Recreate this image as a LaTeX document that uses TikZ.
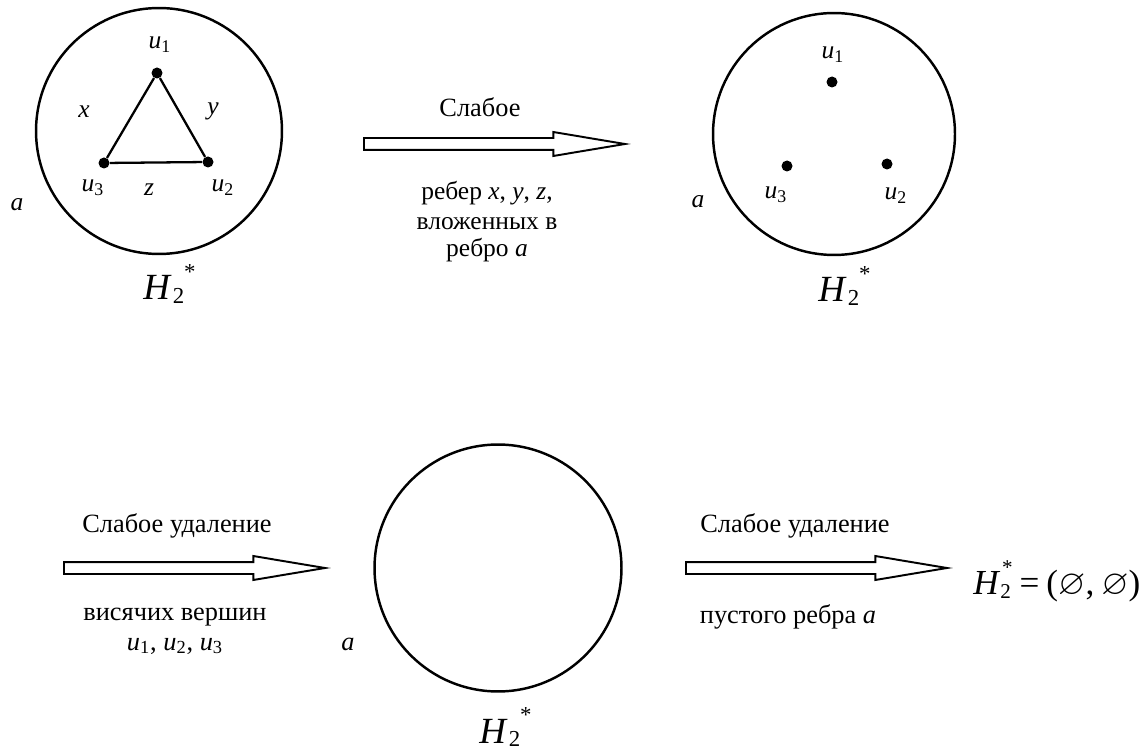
\documentclass[tikz,border=0pt]{standalone}
\usepackage{fontspec}
\usepackage{amssymb}
\setmainfont{Liberation Serif}
\usetikzlibrary{shapes.arrows}

\newcommand{\hstar}{\textit{H}\kern0.03em\raisebox{-0.1em}{\fontsize{13}{13}\selectfont 2}\raisebox{0.55em}{\fontsize{13}{13}\selectfont *}}
\newcommand{\hstack}{\textit{H}\rlap{\raisebox{-0.12em}{\fontsize{12}{12}\selectfont 2}}\kern0.05em\raisebox{0.55em}{\fontsize{12}{12}\selectfont *}}
\newcommand{\uu}[1]{\textit{u}\textsubscript{#1}}

\begin{document}
\begin{tikzpicture}[x=0.02cm, y=-0.02cm,
    ring/.style={draw, circle, line width=1.4pt, inner sep=0pt},
    vert/.style={circle, fill, inner sep=0pt, minimum size=0.22cm},
    edge/.style={line width=1.3pt},
    fatarrow/.style={draw, single arrow, anchor=tail, line width=1.1pt, inner sep=0.1cm, single arrow head extend=0.12cm, single arrow tip angle=19, single arrow head indent=0pt, minimum height=5.22cm},
    lbl/.style={font=\fontsize{14.5}{16}\selectfont, inner sep=0pt},
    txt/.style={font=\fontsize{15}{17}\selectfont, inner sep=0pt, anchor=base},
    big/.style={font=\fontsize{21}{24}\selectfont, inner sep=0pt, anchor=base west}
]
    \useasboundingbox (0,0) rectangle (1142,749);

    % first graph
    \node[ring, minimum size=4.92cm] (c1) at (159,131) {};
    \node[vert] (t1) at (157,73) {};
    \node[vert] (t2) at (208,162) {};
    \node[vert] (t3) at (104,163) {};
    \draw[edge] (t1) -- (t2);
    \draw[edge] (t2) -- (t3);
    \draw[edge] (t3) -- (t1);
    \node[lbl] (l1) at (160,45) {\uu{1}};
    \node[lbl] (l2) at (223,188) {\uu{2}};
    \node[lbl] (l3) at (93,188) {\uu{3}};
    \node[lbl] (ex) at (84,112) {\textit{x}};
    \node[lbl] (ey) at (213,111) {\textit{y}};
    \node[lbl] (ez) at (149,190) {\textit{z}};
    \node[lbl] (a1) at (17,205) {\textit{a}};
    \node[big] (h1) at (143,300) {\hstar};

    % first step
    \node[fatarrow] (ar1) at (363,144) {};
    \node[txt] (s1) at (480,117) {Слабое};
    \node[txt, font=\fontsize{14.5}{16}\selectfont] (d1a) at (487,200) {ребер \textit{x}, \textit{y}, \textit{z},};
    \node[txt, font=\fontsize{14.5}{16}\selectfont] (d1b) at (487,230) {вложенных в};
    \node[txt, font=\fontsize{14.5}{16}\selectfont] (d1c) at (487,257) {ребро \textit{a}};

    % second graph
    \node[ring, minimum size=4.84cm] (c2) at (834,134) {};
    \node[vert] (v1) at (832,82) {};
    \node[vert] (v2) at (887,164) {};
    \node[vert] (v3) at (787,166) {};
    \node[lbl] (m1) at (833,55) {\uu{1}};
    \node[lbl] (m2) at (896,196) {\uu{2}};
    \node[lbl] (m3) at (776,195) {\uu{3}};
    \node[lbl] (a2) at (698,202) {\textit{a}};
    \node[big] (h2) at (818,302) {\hstar};

    % second step
    \node[fatarrow] (ar2) at (63,568) {};
    \node[txt] (s2) at (177,532) {Слабое удаление};
    \node[txt] (d2a) at (175,620) {висячих вершин};
    \node[txt] (d2b) at (175,650) {\uu{1}, \uu{2}, \uu{3}};

    % third graph
    \node[ring, minimum size=4.94cm] (c3) at (498,568) {};
    \node[txt] (a3) at (348,650) {\textit{a}};
    \node[big] (h3) at (479,743) {\hstar};

    % third step
    \node[fatarrow] (ar3) at (685,568) {};
    \node[txt] (s3) at (795,532) {Слабое удаление};
    \node[txt] (d3) at (788,623) {пустого ребра \textit{a}};
    \node[big, font=\fontsize{20}{24}\selectfont] (res) at (973,594) {\hstack\kern0.2em=\kern0.2em($\varnothing$,\kern0.2em$\varnothing$)};
\end{tikzpicture}
\end{document}
